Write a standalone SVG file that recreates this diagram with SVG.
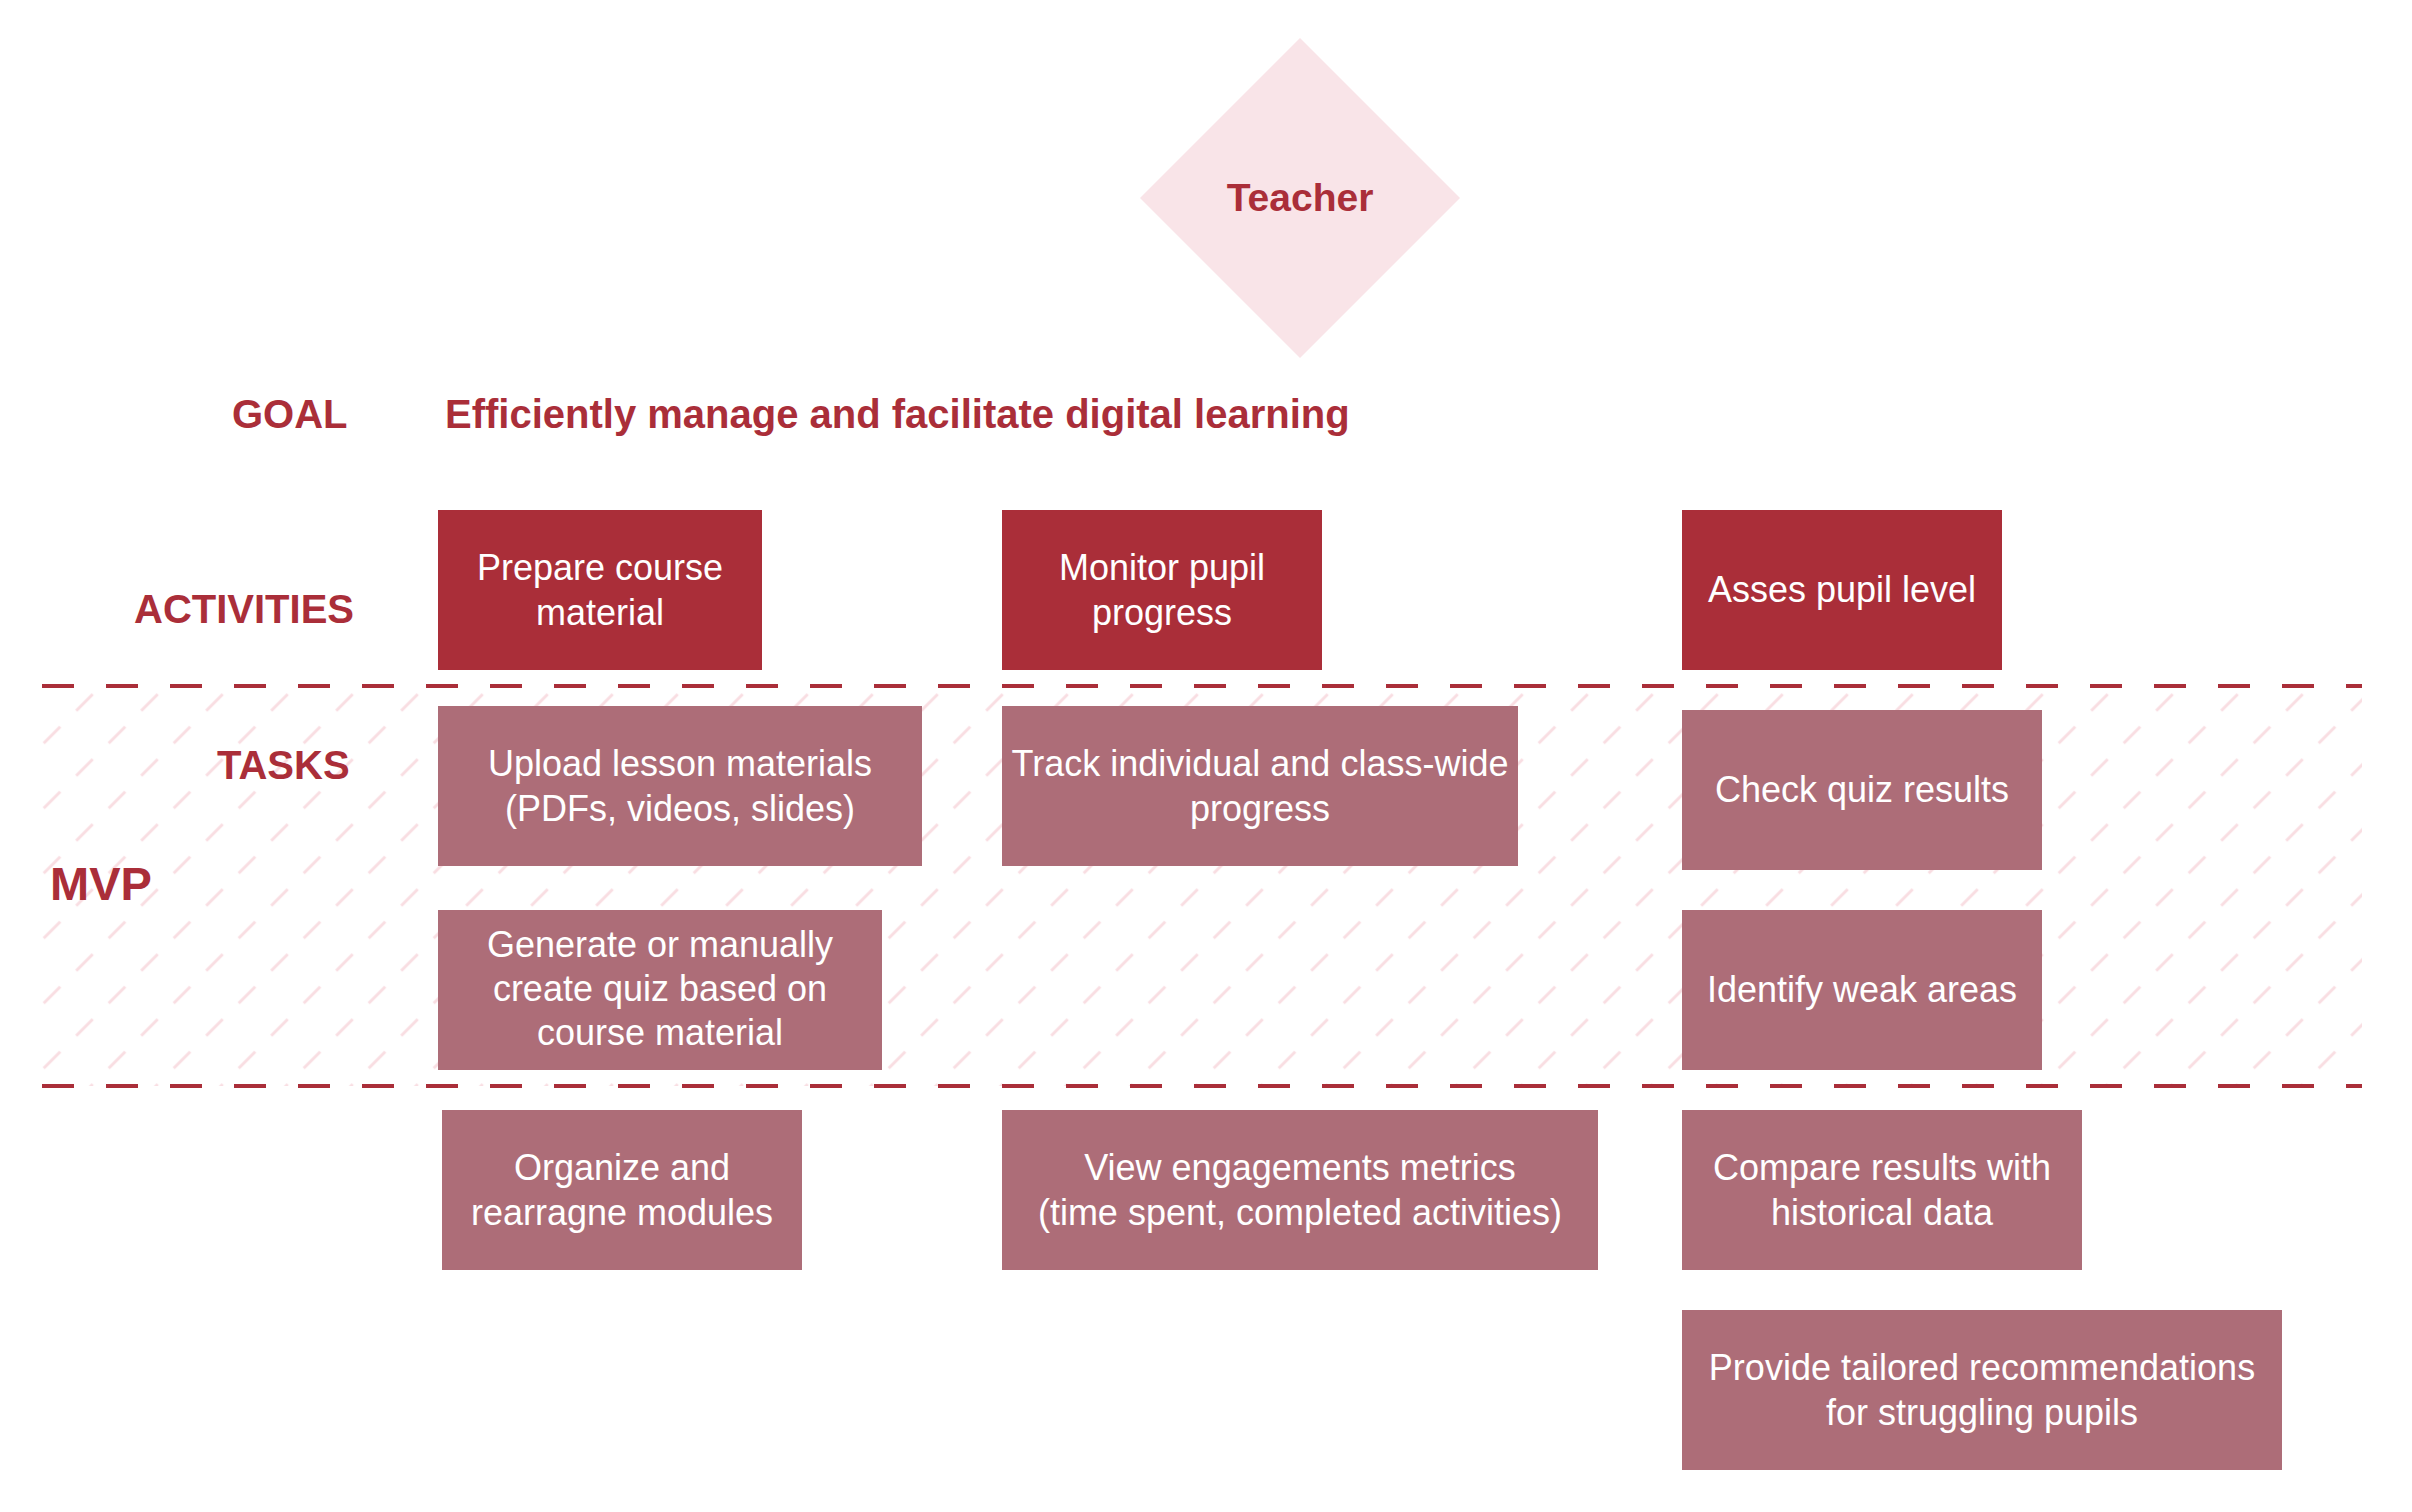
<svg xmlns="http://www.w3.org/2000/svg" width="2412" height="1512" viewBox="0 0 2412 1512">
<defs>
<style>
text{font-family:"Liberation Sans",Arial,Helvetica,sans-serif}
.lbl{font-weight:bold;font-size:40px;fill:#AA2E39}
.act rect{fill:#AA2E39}
.task rect{fill:#AD6D78}
.bt{font-size:36px;fill:#FFFFFF;text-anchor:middle}
.sep{stroke:#AA2E39;stroke-width:4;stroke-dasharray:32 32;fill:none}
</style>
<pattern id="hatch" patternUnits="userSpaceOnUse" x="3.25" y="686.25" width="65" height="65">
<path d="M8 24.5L24.5 8M40.5 57L57 40.5" stroke="#F9DDE2" stroke-width="3" fill="none"/>
</pattern>
</defs>
<rect width="2412" height="1512" fill="#FFFFFF"/>
<rect id="mvp-band" x="42" y="688" width="2320" height="398" fill="url(#hatch)"/>

<g id="separators">
<line class="sep" x1="42" y1="686" x2="2362" y2="686"/>
<line class="sep" x1="42" y1="1086" x2="2362" y2="1086"/>
</g>

<g id="connectors"></g>

<g id="teacher">
<polygon points="1300,38 1460,198 1300,358 1140,198" fill="#F9E4E8"/>
<text x="1300" y="211" class="lbl" font-size="39" style="font-size:39px" text-anchor="middle">Teacher</text>
</g>

<g id="labels">
<text class="lbl" x="232" y="428">GOAL</text>
<text class="lbl" x="445" y="428">Efficiently manage and facilitate digital learning</text>
<text class="lbl" x="134" y="623">ACTIVITIES</text>
<text class="lbl" x="217" y="779">TASKS</text>
<text class="lbl" x="50" y="900" style="font-size:47px">MVP</text>
</g>

<g id="act-prepare" class="act">
<rect x="438" y="510" width="324" height="160"/>
<text class="bt"><tspan x="600" y="580">Prepare course</tspan><tspan x="600" y="625">material</tspan></text>
</g>
<g id="act-monitor" class="act">
<rect x="1002" y="510" width="320" height="160"/>
<text class="bt"><tspan x="1162" y="580">Monitor pupil</tspan><tspan x="1162" y="625">progress</tspan></text>
</g>
<g id="act-asses" class="act">
<rect x="1682" y="510" width="320" height="160"/>
<text class="bt"><tspan x="1842" y="602">Asses pupil level</tspan></text>
</g>

<g id="task-upload" class="task">
<rect x="438" y="706" width="484" height="160"/>
<text class="bt"><tspan x="680" y="776">Upload lesson materials</tspan><tspan x="680" y="821">(PDFs, videos, slides)</tspan></text>
</g>
<g id="task-generate" class="task">
<rect x="438" y="910" width="444" height="160"/>
<text class="bt"><tspan x="660" y="957">Generate or manually</tspan><tspan x="660" y="1001">create quiz based on</tspan><tspan x="660" y="1045">course material</tspan></text>
</g>
<g id="task-track" class="task">
<rect x="1002" y="706" width="516" height="160"/>
<text class="bt"><tspan x="1260" y="776">Track individual and class-wide</tspan><tspan x="1260" y="821">progress</tspan></text>
</g>
<g id="task-check" class="task">
<rect x="1682" y="710" width="360" height="160"/>
<text class="bt"><tspan x="1862" y="802">Check quiz results</tspan></text>
</g>
<g id="task-identify" class="task">
<rect x="1682" y="910" width="360" height="160"/>
<text class="bt"><tspan x="1862" y="1002">Identify weak areas</tspan></text>
</g>
<g id="task-organize" class="task">
<rect x="442" y="1110" width="360" height="160"/>
<text class="bt"><tspan x="622" y="1180">Organize and</tspan><tspan x="622" y="1225">rearragne modules</tspan></text>
</g>
<g id="task-view" class="task">
<rect x="1002" y="1110" width="596" height="160"/>
<text class="bt"><tspan x="1300" y="1180">View engagements metrics</tspan><tspan x="1300" y="1225">(time spent, completed activities)</tspan></text>
</g>
<g id="task-compare" class="task">
<rect x="1682" y="1110" width="400" height="160"/>
<text class="bt"><tspan x="1882" y="1180">Compare results with</tspan><tspan x="1882" y="1225">historical data</tspan></text>
</g>
<g id="task-provide" class="task">
<rect x="1682" y="1310" width="600" height="160"/>
<text class="bt"><tspan x="1982" y="1380">Provide tailored recommendations</tspan><tspan x="1982" y="1425">for struggling pupils</tspan></text>
</g>
</svg>
